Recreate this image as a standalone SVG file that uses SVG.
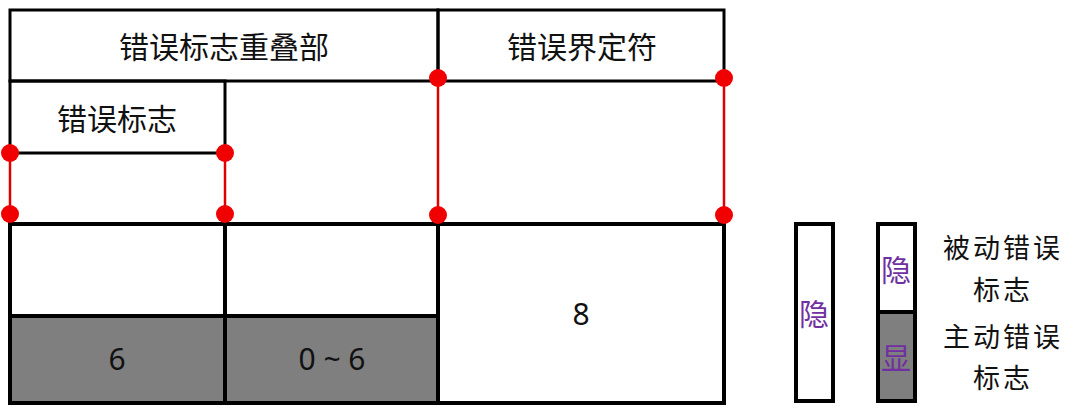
<svg xmlns="http://www.w3.org/2000/svg" width="1080" height="417" viewBox="0 0 1080 417">
<style>
.box{fill:none;stroke:#000;stroke-width:3}
.thick{fill:none;stroke:#000;stroke-width:4}
.grey{fill:#7f7f7f}
.red{stroke:#e00000;stroke-width:2.5;fill:none}
.dot{fill:#f00000}
.t{font-family:"Noto Sans CJK SC","Noto Sans",sans-serif;font-size:30px;fill:#111;text-anchor:middle;dominant-baseline:central}
.l{font-family:"Noto Sans CJK SC","Noto Sans",sans-serif;font-size:27px;letter-spacing:3px;fill:#111;text-anchor:middle;dominant-baseline:central}
.n{font-family:"Noto Sans","Noto Sans CJK SC",sans-serif;font-size:30px;fill:#111;text-anchor:middle;dominant-baseline:central}
.p{font-family:"Noto Sans CJK SC",sans-serif;font-size:30px;fill:#7030a0;text-anchor:middle;dominant-baseline:central}
</style>
<rect width="1080" height="417" fill="#fff"/>
<g id="overlap-header">
<rect class="box" x="10" y="10" width="428" height="71"/>
<text class="t" x="224" y="45">错误标志重叠部</text>
</g>
<g id="delimiter-header">
<rect class="box" x="438" y="10" width="286" height="71"/>
<text class="t" x="582" y="45">错误界定符</text>
</g>
<g id="error-flag">
<rect class="box" x="10" y="81" width="215" height="72"/>
<text class="t" x="117" y="117">错误标志</text>
</g>
<g id="bottom-table">
<rect class="grey" x="10" y="316" width="428" height="87"/>
<rect class="thick" x="10" y="224" width="714" height="179"/>
<line class="thick" x1="225" y1="224" x2="225" y2="403"/>
<line class="thick" x1="438" y1="224" x2="438" y2="403"/>
<line class="thick" x1="10" y1="316" x2="438" y2="316"/>
<text class="n" x="117" y="358">6</text>
<text class="n" x="332" y="358">0 ~ 6</text>
<text class="n" x="581" y="313">8</text>
</g>
<g id="connectors">
<line class="red" x1="10" y1="153" x2="10" y2="214"/>
<line class="red" x1="225" y1="153" x2="225" y2="214"/>
<line class="red" x1="438" y1="78" x2="438" y2="215"/>
<line class="red" x1="724" y1="78" x2="724" y2="215"/>
<circle class="dot" cx="10" cy="153" r="9"/>
<circle class="dot" cx="225" cy="153" r="9"/>
<circle class="dot" cx="10" cy="214" r="9"/>
<circle class="dot" cx="225" cy="214" r="9"/>
<circle class="dot" cx="438" cy="78" r="9"/>
<circle class="dot" cx="724" cy="78" r="9"/>
<circle class="dot" cx="438" cy="215" r="9"/>
<circle class="dot" cx="724" cy="215" r="9"/>
</g>
<g id="legend-passive-bar">
<rect class="thick" x="796" y="224" width="37" height="177"/>
<text class="p" x="814" y="312">隐</text>
</g>
<g id="legend-active-bar">
<rect class="grey" x="878" y="312" width="37" height="89"/>
<rect class="thick" x="878" y="224" width="37" height="177"/>
<line class="thick" x1="878" y1="312" x2="915" y2="312"/>
<text class="p" x="896" y="268">隐</text>
<text class="p" x="896" y="356">显</text>
</g>
<g id="legend-labels">
<text class="l" x="1003" y="246">被动错误</text>
<text class="l" x="1003" y="288">标志</text>
<text class="l" x="1003" y="335">主动错误</text>
<text class="l" x="1003" y="376">标志</text>
</g>
</svg>
